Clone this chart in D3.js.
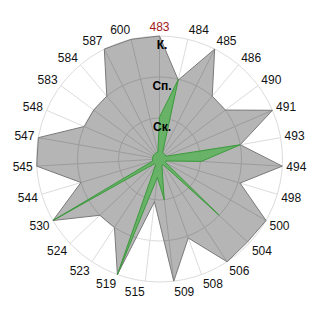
<!DOCTYPE html>
<html>
<head>
<meta charset="utf-8">
<script src="https://cdn.jsdelivr.net/npm/d3@7"></script>
<style>
  body { margin: 0; background: #fff; }
  svg { display: block; font-family: "Liberation Sans", Arial, sans-serif; }
</style>
</head>
<body>
<svg id="chart" width="320" height="320"></svg>
<script>
const categories = ["483", "484", "485", "486", "490", "491", "493", "494", "498", "500", "504", "506", "508", "509",
    "515", "519", "523", "524", "530", "544", "545", "547", "548", "583", "584", "587", "600"];
const ringLabels = ["Ск.", "Сп.", "К."];
const ringValues = [1, 2, 3];
const grayValues = [3, 1.98, 3, 2, 2, 3, 2, 3, 2.05, 3, 2.95, 3, 2.05, 3,
    1.05, 3, 2, 2, 3, 2, 3, 3, 2, 2, 2, 3, 3];
const greenValues = [1.02, 2, 0.17, 0.17, 0.17, 0.17, 2, 1.02, 0.17, 0.17, 2, 0.17, 0.17, 1.0,
    0.45, 3, 0.17, 0.17, 3, 0.17, 0.17, 0.17, 0.17, 0.17, 0.17, 0.17, 0.17];
const highlighted = "483";

const svg = d3.select("#chart");
const cx = 159.5, cy = 159;
const outer = 123;

const r = d3.scaleLinear().domain([0, 3]).range([0, outer]);
const angle = d3.scaleLinear().domain([0, categories.length]).range([0, 2 * Math.PI]);

const g = svg.append("g").attr("transform", `translate(${cx},${cy})`);

// grid
const grid = g.append("g");
grid.selectAll("circle").data(ringValues).join("circle")
    .attr("r", d => r(d))
    .attr("fill", "none")
    .attr("stroke", "#dcdcdc");
grid.selectAll("line").data(categories).join("line")
    .attr("x1", 0).attr("y1", 0)
    .attr("x2", (d, i) => outer * Math.sin(angle(i)))
    .attr("y2", (d, i) => -outer * Math.cos(angle(i)))
    .attr("stroke", "#dcdcdc");

const radial = d3.lineRadial()
    .angle((d, i) => angle(i))
    .radius(d => r(d))
    .curve(d3.curveLinearClosed);

// gray series (semi transparent so grid shows through darker)
g.append("path")
    .attr("d", radial(grayValues))
    .attr("fill", "#000")
    .attr("fill-opacity", 0.29)
    .attr("stroke", "#7a7a7a")
    .attr("stroke-width", 1);

// green series
g.append("path")
    .attr("d", radial(greenValues))
    .attr("fill", "#5fb35f")
    .attr("fill-opacity", 0.9)
    .attr("stroke", "#3d9a3d")
    .attr("stroke-width", 1);

// ring labels
g.selectAll("text.ring").data(ringValues).join("text")
    .attr("class", "ring")
    .attr("x", 2.5)
    .attr("y", d => -r(d) + 13)
    .attr("text-anchor", "middle")
    .attr("font-size", 12)
    .attr("font-weight", "bold")
    .attr("fill", "#000")
    .text((d, i) => ringLabels[i]);

// category labels
g.selectAll("text.cat").data(categories).join("text")
    .attr("class", "cat")
    .attr("x", (d, i) => (outer + 4) * Math.sin(angle(i)))
    .attr("y", (d, i) => -(outer + 4) * Math.cos(angle(i)) - Math.cos(angle(i)) * 6 + 4.5)
    .attr("text-anchor", (d, i) => {
        const s = Math.sin(angle(i));
        return Math.abs(s) < 0.1 ? "middle" : (s > 0 ? "start" : "end");
    })
    .attr("font-size", 12)
    .attr("fill", d => d === highlighted ? "#a01818" : "#111")
    .text(d => d);
</script>
</body>
</html>
